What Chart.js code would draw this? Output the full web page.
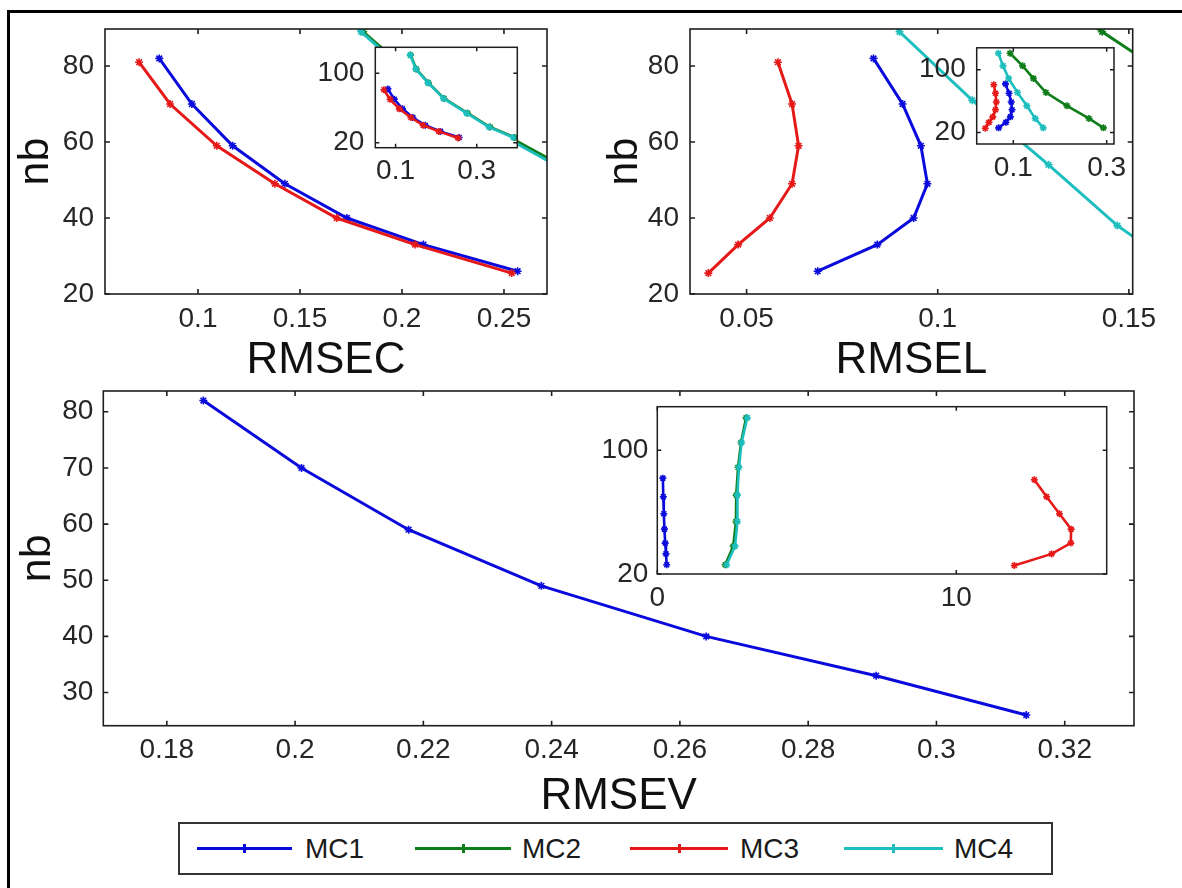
<!DOCTYPE html>
<html><head><meta charset="utf-8">
<script src="https://cdn.jsdelivr.net/npm/chart.js@4/dist/chart.umd.min.js"></script>
<style>
html,body{margin:0;padding:0;background:#fff;}
body{width:1182px;height:888px;position:relative;overflow:hidden;font-family:"Liberation Sans",Arial,sans-serif;}
canvas{position:absolute;}
#frame{position:absolute;left:7px;top:10px;width:1300px;height:1000px;border-left:3px solid #000;border-top:3px solid #000;}
#legend{position:absolute;left:178px;top:822px;width:871px;height:49px;border:2px solid #333;background:#fff;z-index:10;}
.ln{position:absolute;top:23px;height:3px;}
.mk{position:absolute;top:20px;width:3px;height:9px;}
.tx{position:absolute;top:0;line-height:49px;font-size:28px;color:#1a1a1a;}
</style></head>
<body>
<div id="frame"></div>
<canvas id="cTL" width="590" height="395" style="left:0;top:0;z-index:1"></canvas>
<canvas id="cTR" width="592" height="395" style="left:590px;top:0;z-index:1"></canvas>
<canvas id="cB" width="1182" height="450" style="left:0;top:380px;z-index:0"></canvas>
<canvas id="iTL" width="250" height="150" style="left:300px;top:40px;z-index:2"></canvas>
<canvas id="iTR" width="290" height="150" style="left:880px;top:40px;z-index:2"></canvas>
<canvas id="iB" width="600" height="230" style="left:560px;top:395px;z-index:2"></canvas>
<div id="legend"></div>
<script>
// ---------------- data ----------------
const seriesNames = ['MC1', 'MC2', 'MC3', 'MC4'];
const seriesColors = ['#0a0adc', '#0f7d19', '#e61919', '#1ebebe'];

const nbMC1 = [82, 70, 59, 49, 40, 33, 26];
const nbMC2 = [121, 105, 89, 71, 54, 38, 26];
const nbMC3 = [81, 70, 59, 49, 40, 33, 25.5];
const nbMC4 = [121, 105, 89, 71, 54, 38, 26];

const rmsecMC1 = [0.081, 0.097, 0.117, 0.1426, 0.173, 0.2105, 0.2567];
const rmsecMC2 = [0.137, 0.151, 0.181, 0.2195, 0.2775, 0.333, 0.394];
const rmsecMC3 = [0.0711, 0.0863, 0.1092, 0.1377, 0.168, 0.2064, 0.2538];
const rmsecMC4 = [0.136, 0.150, 0.180, 0.218, 0.275, 0.330, 0.390];

const rmselMC1 = [0.0832, 0.0908, 0.0956, 0.0973, 0.0937, 0.0842, 0.0686];
const rmselMC2 = [0.093, 0.120, 0.143, 0.170, 0.215, 0.262, 0.293];
const rmselMC3 = [0.0582, 0.0619, 0.0636, 0.0619, 0.0561, 0.0478, 0.0400];
const rmselMC4 = [0.068, 0.078, 0.090, 0.109, 0.129, 0.147, 0.164];

const rmsevMC1 = [0.1857, 0.2010, 0.2177, 0.2384, 0.2641, 0.2906, 0.3140];
const rmsevMC2 = [2.97, 2.80, 2.70, 2.64, 2.63, 2.54, 2.27];
const rmsevMC3 = [12.61, 13.02, 13.45, 13.84, 13.83, 13.19, 11.94];
const rmsevMC4 = [3.01, 2.82, 2.73, 2.68, 2.68, 2.60, 2.32];

const nbSets = [nbMC1, nbMC2, nbMC3, nbMC4];

// tick values / labels
const tlXTicks = [0.1, 0.15, 0.2, 0.25];       const tlXLabels = ['0.1', '0.15', '0.2', '0.25'];
const tlYTicks = [20, 40, 60, 80];             const tlYLabels = ['20', '40', '60', '80'];
const trXTicks = [0.05, 0.1, 0.15];            const trXLabels = ['0.05', '0.1', '0.15'];
const trYTicks = [20, 40, 60, 80];             const trYLabels = ['20', '40', '60', '80'];
const bXTicks = [0.18, 0.2, 0.22, 0.24, 0.26, 0.28, 0.3, 0.32];
const bXLabels = ['0.18', '0.2', '0.22', '0.24', '0.26', '0.28', '0.3', '0.32'];
const bYTicks = [30, 40, 50, 60, 70, 80];      const bYLabels = ['30', '40', '50', '60', '70', '80'];
const itlXTicks = [0.1, 0.3];                  const itlXLabels = ['0.1', '0.3'];
const itlYTicks = [20, 100];                   const itlYLabels = ['20', '100'];
const itrXTicks = [0.1, 0.3];                  const itrXLabels = ['0.1', '0.3'];
const itrYTicks = [20, 100];                   const itrYLabels = ['20', '100'];
const ibXTicks = [0, 10];                      const ibXLabels = ['0', '10'];
const ibYTicks = [20, 100];                    const ibYLabels = ['20', '100'];

// ---------------- helpers ----------------
const FONT = '"Liberation Sans", Arial, sans-serif';
const drawOrder = [4, 3, 2, 1]; // later series drawn on top (MATLAB-like)

function buildSets(xSets, lw, pr) {
  return xSets.map((xs, k) => ({
    label: seriesNames[k],
    data: xs.map((v, i) => ({x: v, y: nbSets[k][i]})),
    showLine: true,
    borderColor: seriesColors[k],
    backgroundColor: seriesColors[k],
    borderWidth: lw,
    tension: 0,
    pointStyle: 'star',
    pointRadius: pr,
    pointBorderWidth: 1.6,
    pointBorderColor: seriesColors[k],
    pointBackgroundColor: seriesColors[k],
    order: drawOrder[k]
  }));
}

const boxPlugin = {
  id: 'boxTicks',
  beforeDraw(chart, args, opts) {
    if (opts.white) {
      const a = chart.chartArea, ctx = chart.ctx;
      ctx.save(); ctx.fillStyle = '#fff';
      ctx.fillRect(a.left, a.top, a.right - a.left, a.bottom - a.top);
      ctx.restore();
    }
  },
  afterDraw(chart, args, opts) {
    const ctx = chart.ctx, a = chart.chartArea, x = chart.scales.x, y = chart.scales.y;
    const L = opts.len;
    ctx.save();
    ctx.strokeStyle = '#1e1e1e';
    ctx.lineWidth = opts.lw;
    ctx.strokeRect(a.left, a.top, a.right - a.left, a.bottom - a.top);
    ctx.beginPath();
    x.ticks.forEach(t => {
      const p = x.getPixelForValue(t.value);
      ctx.moveTo(p, a.bottom); ctx.lineTo(p, a.bottom - L);
      ctx.moveTo(p, a.top); ctx.lineTo(p, a.top + L);
    });
    y.ticks.forEach(t => {
      const p = y.getPixelForValue(t.value);
      ctx.moveTo(a.left, p); ctx.lineTo(a.left + L, p);
      ctx.moveTo(a.right, p); ctx.lineTo(a.right - L, p);
    });
    ctx.stroke();
    ctx.restore();
  }
};

function makeChart(id, c) {
  const xScale = {
    type: 'linear', min: c.xMin, max: c.xMax,
    afterBuildTicks: s => { s.ticks = c.xTicks.map(v => ({value: v})); },
    afterFit: s => { s.height = c.xH; s.paddingLeft = 0; s.paddingRight = 0; s.paddingTop = 0; s.paddingBottom = 0; },
    grid: {display: false, drawTicks: false},
    border: {display: false},
    ticks: {padding: c.xPad, autoSkip: false, maxRotation: 0, color: '#262626',
            font: {family: FONT, size: 28}, callback: (v, i) => c.xLabels[i]}
  };
  if (c.xTitle) xScale.title = {display: true, text: c.xTitle, color: '#111',
      font: {family: FONT, size: 44}, padding: {top: 0, bottom: c.xTitlePad}};
  const yScale = {
    type: 'linear', min: c.yMin, max: c.yMax,
    afterBuildTicks: s => { s.ticks = c.yTicks.map(v => ({value: v})); },
    afterFit: s => { s.width = c.yW; s.paddingLeft = 0; s.paddingRight = 0; s.paddingTop = 0; s.paddingBottom = 0; },
    grid: {display: false, drawTicks: false},
    border: {display: false},
    ticks: {padding: c.yPad, autoSkip: false, color: '#262626',
            font: {family: FONT, size: 28}, callback: (v, i) => c.yLabels[i]}
  };
  if (c.yTitle) yScale.title = {display: true, text: c.yTitle, color: '#111',
      font: {family: FONT, size: 43}, padding: {top: c.yTitlePad, bottom: 0}};
  return new Chart(document.getElementById(id), {
    type: 'scatter',
    data: {datasets: buildSets(c.series, c.lw, c.pr)},
    options: {
      responsive: false, animation: false, devicePixelRatio: 1,
      layout: {padding: c.pad},
      plugins: {legend: {display: false}, tooltip: {enabled: false},
                boxTicks: {len: c.tickLen, lw: c.boxLw, white: !!c.white}},
      scales: {x: xScale, y: yScale}
    },
    plugins: [boxPlugin]
  });
}

// ---------------- charts ----------------
makeChart('cTL', {
  series: [rmsecMC1, rmsecMC2, rmsecMC3, rmsecMC4], lw: 3, pr: 4,
  xMin: 0.0544, xMax: 0.2711, yMin: 20, yMax: 89.74,
  xTicks: tlXTicks, xLabels: tlXLabels, yTicks: tlYTicks, yLabels: tlYLabels,
  pad: {left: 0, top: 29, right: 43, bottom: 0}, yW: 105, xH: 101,
  xPad: 8.5, yPad: 11, xTitle: 'RMSEC', xTitlePad: 7.6, yTitle: 'nb', yTitlePad: 9.9,
  tickLen: 5, boxLw: 1.6
});
makeChart('cTR', {
  series: [rmselMC1, rmselMC2, rmselMC3, rmselMC4], lw: 3, pr: 4,
  xMin: 0.0352, xMax: 0.151, yMin: 20, yMax: 89.74,
  xTicks: trXTicks, xLabels: trXLabels, yTicks: trYTicks, yLabels: trYLabels,
  pad: {left: 0, top: 29, right: 49.3, bottom: 0}, yW: 100, xH: 101,
  xPad: 8.5, yPad: 11, xTitle: 'RMSEL', xTitlePad: 7.6, yTitle: 'nb', yTitlePad: 9.2,
  tickLen: 5, boxLw: 1.6
});
makeChart('cB', {
  series: [rmsevMC1, rmsevMC2, rmsevMC3, rmsevMC4], lw: 3, pr: 4,
  xMin: 0.1701, xMax: 0.3308, yMin: 24.1, yMax: 83.7,
  xTicks: bXTicks, xLabels: bXLabels, yTicks: bYTicks, yLabels: bYLabels,
  pad: {left: 0, top: 11, right: 48, bottom: 0}, yW: 103.3, xH: 104.3,
  xPad: 7.5, yPad: 10, xTitle: 'RMSEV', xTitlePad: 6.6, yTitle: 'nb', yTitlePad: 12,
  tickLen: 5, boxLw: 1.6
});
makeChart('iTL', {
  series: [rmsecMC1, rmsecMC2, rmsecMC3, rmsecMC4], lw: 2.6, pr: 3.5,
  xMin: 0.05, xMax: 0.4, yMin: 14.2, yMax: 130,
  xTicks: itlXTicks, xLabels: itlXLabels, yTicks: itlYTicks, yLabels: itlYLabels,
  pad: {left: 0, top: 7.3, right: 32.7, bottom: 0}, yW: 75.3, xH: 42.3,
  xPad: 7.2, yPad: 11, tickLen: 4, boxLw: 1.5, white: true
});
makeChart('iTR', {
  series: [rmselMC1, rmselMC2, rmselMC3, rmselMC4], lw: 2.6, pr: 3.5,
  xMin: 0.0216, xMax: 0.3157, yMin: 5.4, yMax: 128,
  xTicks: itrXTicks, xLabels: itrXLabels, yTicks: itrYTicks, yLabels: itrYLabels,
  pad: {left: 0, top: 7.8, right: 56, bottom: 0}, yW: 96.7, xH: 46,
  xPad: 7.2, yPad: 11, tickLen: 4, boxLw: 1.5, white: true
});
makeChart('iB', {
  series: [rmsevMC1, rmsevMC2, rmsevMC3, rmsevMC4], lw: 2.6, pr: 3.5,
  xMin: 0, xMax: 15.03, yMin: 20, yMax: 128.2,
  xTicks: ibXTicks, xLabels: ibXLabels, yTicks: ibYTicks, yLabels: ibYLabels,
  pad: {left: 0, top: 11.7, right: 53.3, bottom: 0}, yW: 97.3, xH: 51,
  xPad: 7.5, yPad: 9, tickLen: 4, boxLw: 1.5, white: true
});

// ---------------- legend ----------------
const legendLineLeft = [17, 235, 450, 664];
const legendLineWidth = [95, 96, 98, 99];
const legendTextLeft = [125, 342, 560, 774];
const lg = document.getElementById('legend');
seriesNames.forEach((name, k) => {
  const ln = document.createElement('div');
  ln.className = 'ln';
  ln.style.left = legendLineLeft[k] + 'px';
  ln.style.width = legendLineWidth[k] + 'px';
  ln.style.background = seriesColors[k];
  lg.appendChild(ln);
  const mk = document.createElement('div');
  mk.className = 'mk';
  mk.style.left = (legendLineLeft[k] + legendLineWidth[k] / 2 - 1.5) + 'px';
  mk.style.background = seriesColors[k];
  lg.appendChild(mk);
  const tx = document.createElement('div');
  tx.className = 'tx';
  tx.style.left = legendTextLeft[k] + 'px';
  tx.textContent = name;
  lg.appendChild(tx);
});
</script>
</body></html>
